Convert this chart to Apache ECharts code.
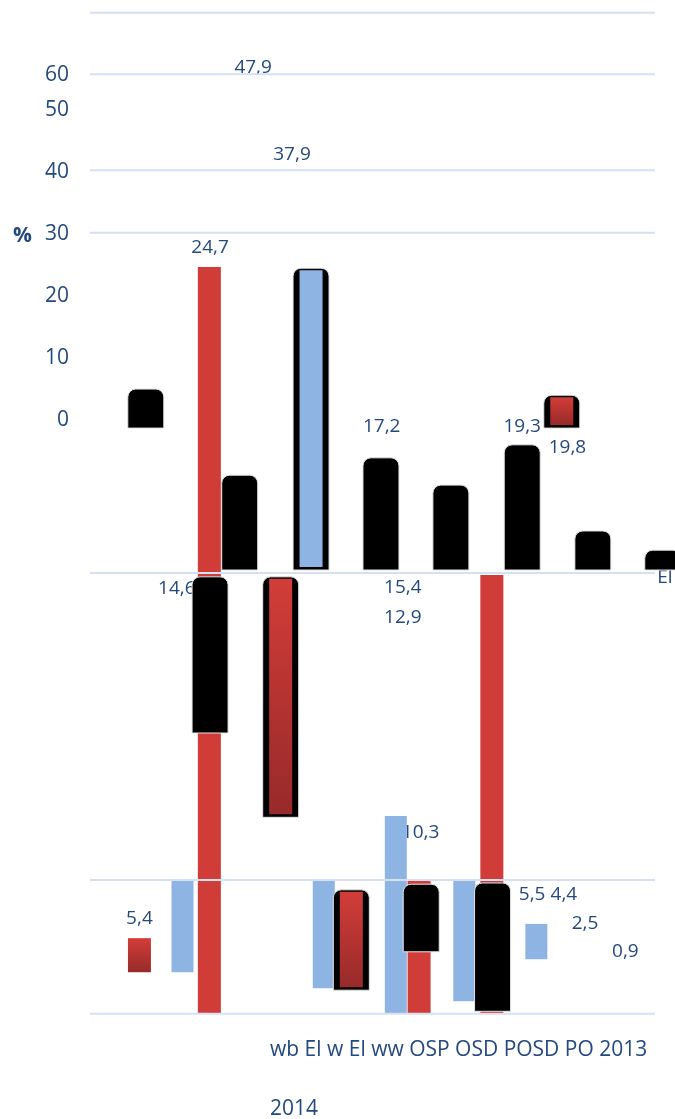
<!DOCTYPE html>
<html>
<head>
<meta charset="utf-8">
<style>
  html, body { margin: 0; padding: 0; background: #ffffff; }
  #chart { width: 675px; height: 1119px; }
</style>
<script src="https://cdn.jsdelivr.net/npm/echarts@6/dist/echarts.min.js"></script>
</head>
<body>
<div id="chart"></div>
<script>
// Category names along the bottom and the year line beneath them
const categories = ['wb El', 'w El', 'ww', 'OSP', 'OSD', 'POSD', 'PO', '2013'];
const yearLine = ['2014'];

// Value-axis tick labels and the axis values they sit at
const yTickLabels = ['0', '10', '20', '30', '40', '50', '60'];
const yTickAt = [0, 10, 20, 30, 40, 50, 55.7];

// Horizontal rule levels (axis values)
const gridLevels = [65.7, 55.8, 40.3, 30.2, -24.7, -74.2, -95.8];

// Bars as [slot, top, bottom] in axis units
const blackBars = [
  [0.79, 5.0, -1.3], [2.12, -8.9, -24.2], [4.12, -6.1, -24.2], [5.11, -10.5, -24.2],
  [6.12, -4.0, -24.2], [7.12, -17.9, -24.2], [8.11, -21.0, -24.2],
  [1.70, -25.3, -50.5], [4.69, -74.9, -85.8], [5.70, -74.7, -95.4]
];
const blueFramed = [[3.13, 24.5, -24.2]];
const redFramed = [[2.70, -25.3, -64.1], [3.70, -75.8, -92.0], [6.68, 4.0, -1.3]];
const redBars = [[1.69, 24.7, -95.7], [5.69, -25.0, -95.7], [4.66, -74.2, -95.7]];
const redShaded = [[0.70, -83.6, -89.1]];
const blueBars = [[1.31, -74.2, -89.1], [3.31, -74.2, -91.7], [4.33, -63.9, -95.7],
                  [5.30, -74.2, -93.8], [6.32, -81.3, -87.0]];

// Value labels as [slot, level, text]
const valueLabels = [
  [2.31, 56.9, '47,9'], [2.86, 42.9, '37,9'], [1.70, 27.8, '24,7'],
  [4.13, -1.0, '17,2'], [6.12, -1.0, '19,3'], [6.76, -4.4, '19,8'],
  [1.23, -27.2, '14,6'], [4.43, -27.1, '15,4'], [4.43, -31.8, '12,9'],
  [4.68, -66.5, '10,3'], [0.70, -80.5, '5,4'], [6.26, -76.6, '5,5'],
  [6.71, -76.6, '4,4'], [7.01, -81.3, '2,5'], [7.58, -85.8, '0,9'],
  [8.14, -25.4, 'El']
];

const RED = '#d03c37';
const BLUE = '#8eb4e3';
const TEXT = '#24497f';
const FONT = '"Open Sans", "Noto Sans", sans-serif';
const OUTER_W = 36, INNER_W = 23, BLUE_W = 22;

function rectFor(api, w) {
  const top = api.coord([api.value(0), api.value(1)]);
  const bot = api.coord([api.value(0), api.value(2)]);
  return { x: top[0] - w / 2, y: top[1], width: w, height: bot[1] - top[1] };
}

function plainBar(color, w) {
  return function (params, api) {
    return { type: 'rect', shape: rectFor(api, w), style: { fill: color } };
  };
}

function shadedFill() {
  return new echarts.graphic.LinearGradient(0, 0, 0, 1, [
    { offset: 0, color: '#d23d38' }, { offset: 1, color: '#972a2a' }
  ]);
}

function blackBar(params, api) {
  const s = rectFor(api, OUTER_W);
  s.r = [8, 8, 0, 0];
  return { type: 'rect', shape: s, style: { fill: '#000', stroke: '#e4e4e4', lineWidth: 1 } };
}

function framedBar(innerFill) {
  return function (params, api) {
    const o = rectFor(api, OUTER_W);
    const i = rectFor(api, INNER_W);
    return {
      type: 'group',
      children: [
        { type: 'rect', shape: Object.assign({}, o, { r: [8, 8, 0, 0] }),
          style: { fill: '#000', stroke: '#e4e4e4', lineWidth: 1 } },
        { type: 'rect', shape: { x: i.x, y: i.y + 2, width: i.width, height: i.height - 5 },
          style: { fill: typeof innerFill === 'function' ? innerFill() : innerFill } }
      ]
    };
  };
}

const chart = echarts.init(document.getElementById('chart'), null, { renderer: 'canvas' });

chart.setOption({
  animation: false,
  backgroundColor: '#ffffff',
  title: [
    { text: '%', left: 13, top: 226, padding: 0,
      textStyle: { color: TEXT, fontSize: 21, fontWeight: 'bold', fontFamily: FONT } },
    { text: categories.join(' '), left: 270, top: 1040, padding: 0,
      textStyle: { color: TEXT, fontSize: 21, fontWeight: 'normal', fontFamily: FONT } },
    { text: yearLine.join(' '), left: 270, top: 1099, padding: 0,
      textStyle: { color: TEXT, fontSize: 21, fontWeight: 'normal', fontFamily: FONT } }
  ],
  grid: { left: 90, right: 20, top: 11, bottom: 104, containLabel: false },
  xAxis: { type: 'value', min: 0, max: 8, show: false },
  yAxis: {
    type: 'value', min: -96, max: 66,
    axisLine: { show: false }, axisTick: { show: false }, splitLine: { show: false },
    axisLabel: {
      customValues: yTickAt,
      margin: 21,
      color: TEXT, fontSize: 21, fontFamily: FONT,
      formatter: function (v) {
        let best = 0;
        yTickAt.forEach(function (t, k) { if (Math.abs(t - v) < Math.abs(yTickAt[best] - v)) best = k; });
        return yTickLabels[best];
      }
    }
  },
  series: [
    { type: 'custom', name: 'labels', z: 1, data: valueLabels, encode: { x: 0, y: 1 },
      renderItem: function (params, api) {
        const p = api.coord([api.value(0), api.value(1)]);
        return { type: 'text', x: p[0], y: p[1],
          style: { text: valueLabels[params.dataIndex][2], fill: TEXT, font: '19px ' + FONT,
                   align: 'center', verticalAlign: 'middle' } };
      } },
    { type: 'custom', name: 'red', z: 2, data: redBars, encode: { x: 0, y: [1, 2] }, renderItem: plainBar(RED, INNER_W) },
    { type: 'custom', name: 'blue', z: 3, data: blueBars, encode: { x: 0, y: [1, 2] }, renderItem: plainBar(BLUE, BLUE_W) },
    { type: 'custom', name: 'redShaded', z: 3, data: redShaded, encode: { x: 0, y: [1, 2] },
      renderItem: function (params, api) {
        return { type: 'rect', shape: rectFor(api, INNER_W), style: { fill: shadedFill() } };
      } },
    { type: 'custom', name: 'black', z: 4, data: blackBars, encode: { x: 0, y: [1, 2] }, renderItem: blackBar },
    { type: 'custom', name: 'blueFramed', z: 4, data: blueFramed, encode: { x: 0, y: [1, 2] }, renderItem: framedBar(BLUE) },
    { type: 'custom', name: 'redFramed', z: 4, data: redFramed, encode: { x: 0, y: [1, 2] }, renderItem: framedBar(shadedFill) },
    { type: 'custom', name: 'rules', z: 10, data: gridLevels.map(function (v) { return [0, v]; }), encode: { x: 0, y: 1 },
      renderItem: function (params, api) {
        const y = api.coord([0, api.value(1)])[1];
        const cs = params.coordSys;
        return { type: 'line', shape: { x1: cs.x, y1: y, x2: cs.x + cs.width, y2: y },
          style: { stroke: '#d5e1f2', lineWidth: 2 } };
      } }
  ]
});
</script>
</body>
</html>
